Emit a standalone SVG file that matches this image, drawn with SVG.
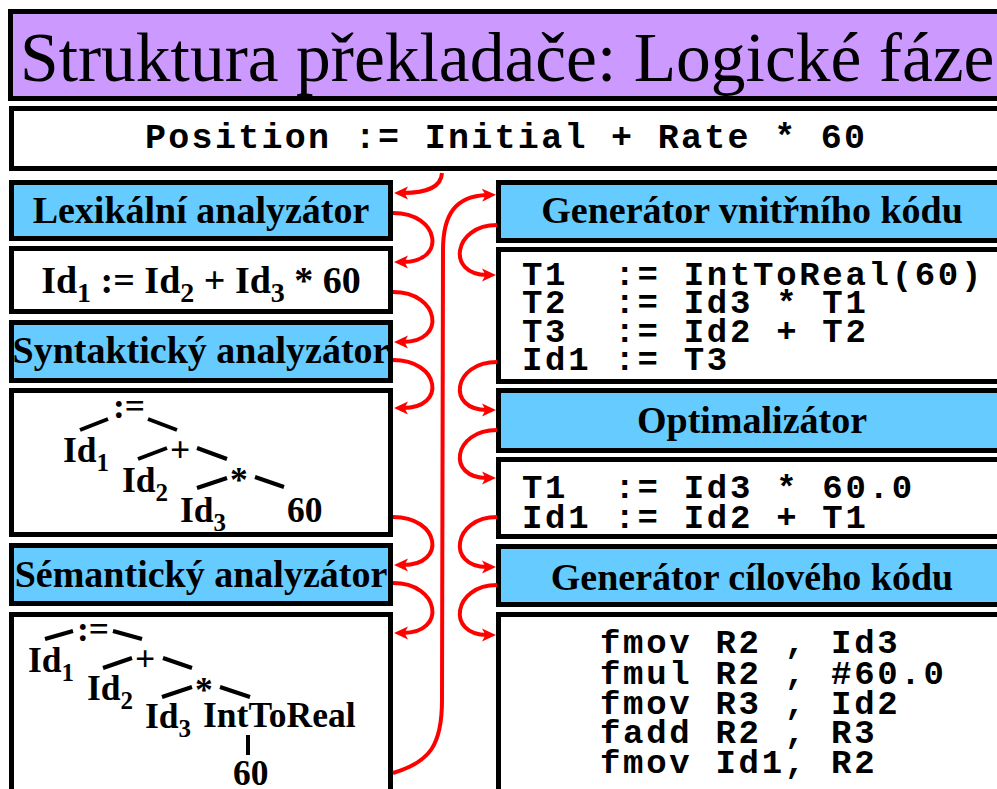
<svg xmlns="http://www.w3.org/2000/svg" width="997" height="789" viewBox="0 0 997 789">
<defs>
<style>
.box{stroke:#000;stroke-width:5}
.blue{fill:#66CCFF}
.white{fill:#fff}
.purple{fill:#CC99FF}
.hdr{font-family:"Liberation Serif","Times New Roman",serif;font-weight:bold;font-size:38px;text-anchor:middle;fill:#000}
.code{font-family:"Liberation Mono","Courier New",monospace;font-weight:bold;font-size:34px;letter-spacing:2.7px;fill:#000}
.tree{font-family:"Liberation Serif","Times New Roman",serif;font-weight:bold;font-size:35.5px;fill:#000}
.edge{stroke:#000;stroke-width:4;fill:none}
.conn{fill:none;stroke:#f00;stroke-width:4}
</style>
<marker id="ah" markerUnits="userSpaceOnUse" markerWidth="15" markerHeight="14" refX="5" refY="7" orient="auto">
<path d="M0,0.5 L14,7 L0,13.5 L3.5,7 z" fill="#f00"/>
</marker>
</defs>
<rect width="997" height="789" fill="#fff"/>

<g id="title">
<rect class="box purple" x="10.5" y="11.5" width="1000" height="87"/>
<text x="20" y="81" font-family="'Liberation Serif','Times New Roman',serif" font-size="69.5">Struktura překladače: Logické fáze</text>
</g>

<g id="source">
<rect class="box white" x="11.5" y="108.5" width="1000" height="60"/>
<text class="code" x="145" y="148" style="font-size:35px;letter-spacing:2.3px" xml:space="preserve">Position := Initial + Rate * 60</text>
</g>

<g id="lexer">
<rect class="box blue" x="11.5" y="182.5" width="379" height="56"/>
<text class="hdr" x="201" y="223">Lexikální analyzátor</text>
</g>

<g id="tokens">
<rect class="box white" x="11.5" y="248.5" width="379" height="63"/>
<text class="hdr" x="201" y="293">Id<tspan font-size="28" dy="9">1</tspan><tspan dy="-9"> := Id</tspan><tspan font-size="28" dy="9">2</tspan><tspan dy="-9"> + Id</tspan><tspan font-size="28" dy="9">3</tspan><tspan dy="-9"> * 60</tspan></text>
</g>

<g id="parser">
<rect class="box blue" x="11.5" y="322.5" width="379" height="58"/>
<text class="hdr" x="201" y="363">Syntaktický analyzátor</text>
</g>

<g id="syntax-tree">
<rect class="box white" x="11.5" y="390.5" width="379" height="144"/>
<text class="tree" x="113" y="418">:=</text>
<text class="tree" x="63" y="462">Id<tspan font-size="25" dy="9">1</tspan></text>
<text class="tree" x="170" y="462">+</text>
<text class="tree" x="122" y="492">Id<tspan font-size="25" dy="9">2</tspan></text>
<text class="tree" x="230" y="492">*</text>
<text class="tree" x="180" y="522">Id<tspan font-size="25" dy="9">3</tspan></text>
<text class="tree" x="287" y="522">60</text>
<path class="edge" d="M80,430 L108,419 M148,419 L177,430 M138,459 L167,448 M197,448 L227,459 M197,488 L227,478 M255,477 L284,487"/>
</g>

<g id="semantic">
<rect class="box blue" x="11.5" y="545.5" width="379" height="58"/>
<text class="hdr" x="201" y="587">Sémantický analyzátor</text>
</g>

<g id="semantic-tree">
<rect class="box white" x="11.5" y="614.5" width="379" height="200"/>
<text class="tree" x="77" y="641">:=</text>
<text class="tree" x="28" y="672">Id<tspan font-size="25" dy="9">1</tspan></text>
<text class="tree" x="135" y="671">+</text>
<text class="tree" x="87" y="700">Id<tspan font-size="25" dy="9">2</tspan></text>
<text class="tree" x="195" y="702">*</text>
<text class="tree" x="145" y="728">Id<tspan font-size="25" dy="9">3</tspan></text>
<text class="tree" x="203" y="727">IntToReal</text>
<text class="tree" x="233" y="785">60</text>
<path class="edge" d="M45,639 L73,631 M113,631 L142,639 M103,668 L132,658 M163,658 L192,668 M162,697 L192,687 M220,687 L250,697 M248,735 L248,755"/>
</g>

<g id="icg">
<rect class="box blue" x="498.5" y="182.5" width="520" height="58"/>
<text class="hdr" x="752" y="223">Generátor vnitřního kódu</text>
</g>

<g id="ir-code">
<rect class="box white" x="498.5" y="249.5" width="520" height="132"/>
<text class="code" xml:space="preserve"><tspan x="522" y="285">T1  := IntToReal(60)</tspan><tspan x="522" y="313">T2  := Id3 * T1</tspan><tspan x="522" y="342">T3  := Id2 + T2</tspan><tspan x="522" y="370">Id1 := T3</tspan></text>
</g>

<g id="optimizer">
<rect class="box blue" x="498.5" y="390.5" width="520" height="60"/>
<text class="hdr" x="752" y="433">Optimalizátor</text>
</g>

<g id="opt-code">
<rect class="box white" x="498.5" y="459.5" width="520" height="77"/>
<text class="code" xml:space="preserve"><tspan x="522" y="498">T1  := Id3 * 60.0</tspan><tspan x="522" y="528">Id1 := Id2 + T1</tspan></text>
</g>

<g id="codegen">
<rect class="box blue" x="498.5" y="546.5" width="520" height="58"/>
<text class="hdr" x="752" y="590">Generátor cílového kódu</text>
</g>

<g id="target-code">
<rect class="box white" x="498.5" y="614.5" width="520" height="200"/>
<text class="code" xml:space="preserve"><tspan x="600" y="653">fmov R2 , Id3</tspan><tspan x="600" y="684">fmul R2 , #60.0</tspan><tspan x="600" y="714">fmov R3 , Id2</tspan><tspan x="600" y="743">fadd R2 , R3</tspan><tspan x="600" y="773">fmov Id1, R2</tspan></text>
</g>

<g id="connectors">
<path class="conn" marker-end="url(#ah)" d="M442,173 C441,188 425,193 403,193"/>
<path class="conn" marker-end="url(#ah)" d="M393,213 C440,213 447,262 403,262"/>
<path class="conn" marker-end="url(#ah)" d="M393,292 C440,292 447,342 403,342"/>
<path class="conn" marker-end="url(#ah)" d="M393,360 C440,360 447,408 403,408"/>
<path class="conn" marker-end="url(#ah)" d="M393,517 C440,517 447,565 403,565"/>
<path class="conn" marker-end="url(#ah)" d="M393,583 C440,583 447,633 403,633"/>
<path class="conn" marker-end="url(#ah)" d="M393,773 C430,762 442,745 442,700 L443,250 C443,215 455,196 487,195"/>
<path class="conn" marker-end="url(#ah)" d="M497,225 C453,225 446,275 487,275"/>
<path class="conn" marker-end="url(#ah)" d="M497,362 C453,362 446,410 487,410"/>
<path class="conn" marker-end="url(#ah)" d="M497,430 C453,430 446,478 487,478"/>
<path class="conn" marker-end="url(#ah)" d="M497,517 C453,517 446,567 487,567"/>
<path class="conn" marker-end="url(#ah)" d="M497,585 C453,585 446,635 487,635"/>
</g>
</svg>
